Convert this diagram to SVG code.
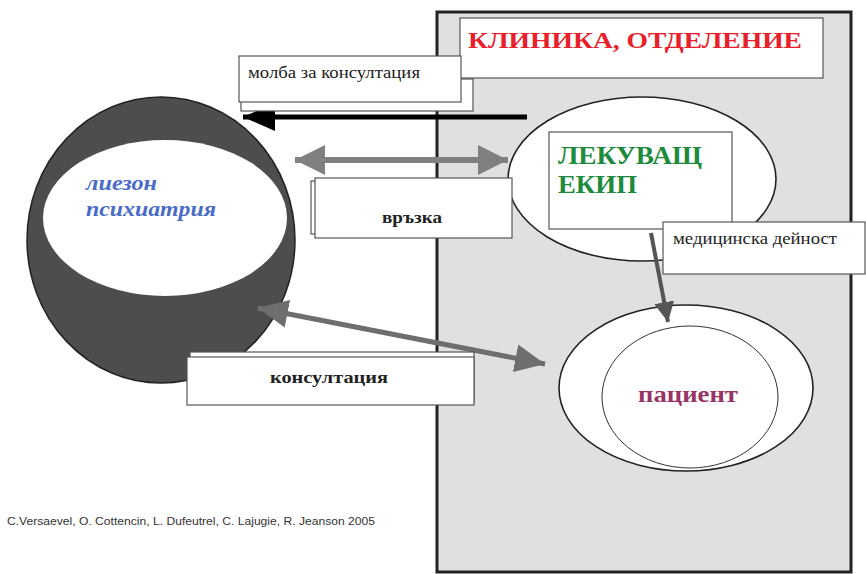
<svg xmlns="http://www.w3.org/2000/svg" width="866" height="574" viewBox="0 0 866 574">
<style>
.box{fill:#fff;stroke:#555;stroke-width:1.2}
.serif{font-family:"Liberation Serif","DejaVu Serif",serif}
.lbl{font-family:"Liberation Serif","DejaVu Serif",serif;font-size:16px;fill:#222}
.blbl{font-family:"Liberation Serif","DejaVu Serif",serif;font-size:17px;font-weight:bold;fill:#222}
.ell{fill:#fff;stroke:#222;stroke-width:1.6}
</style>
<defs>
<marker id="hBlack" markerUnits="userSpaceOnUse" markerWidth="34" markerHeight="28" refX="32" refY="14" orient="auto">
<path d="M0,0 L32,14 L0,28 Z" fill="#000"/>
</marker>
<marker id="hGray" markerUnits="userSpaceOnUse" markerWidth="32" markerHeight="30" refX="30" refY="15" orient="auto-start-reverse">
<path d="M0,0 L30,15 L0,30 Z" fill="#808080"/>
</marker>
<marker id="hGray2" markerUnits="userSpaceOnUse" markerWidth="32" markerHeight="30" refX="30" refY="15" orient="auto-start-reverse">
<path d="M0,1 L30,15 L0,29 Z" fill="#6e6e6e"/>
</marker>
<marker id="hDark" markerUnits="userSpaceOnUse" markerWidth="22" markerHeight="20" refX="20" refY="10" orient="auto">
<path d="M0,0 L20,10 L0,20 Z" fill="#555"/>
</marker>
</defs>

<g id="clinic">
<rect x="437" y="12" width="414" height="560" fill="#e0e0e0" stroke="#222" stroke-width="3"/>
</g>

<g id="clinic-title">
<rect class="box" x="460" y="18" width="363" height="60"/>
<text class="serif" x="468" y="48" font-size="24" font-weight="bold" fill="#e8202a" textLength="334" lengthAdjust="spacingAndGlyphs">КЛИНИКА, ОТДЕЛЕНИЕ</text>
</g>

<g id="liaison">
<ellipse cx="161" cy="240" rx="134" ry="143" fill="#4d4d4d" stroke="#222" stroke-width="1.5"/>
<ellipse cx="165" cy="218" rx="122" ry="78" fill="#fff"/>
<text class="serif" font-size="22" font-weight="bold" font-style="italic" fill="#4a6cc8">
<tspan x="86" y="190" textLength="71" lengthAdjust="spacingAndGlyphs">лиезон</tspan>
<tspan x="86" y="216" textLength="130" lengthAdjust="spacingAndGlyphs">психиатрия</tspan>
</text>
</g>

<g id="team">
<ellipse class="ell" cx="642" cy="179" rx="134" ry="82"/>
<rect class="box" x="549" y="132" width="183" height="97"/>
<text class="serif" font-size="26" font-weight="bold" fill="#1e8a3c">
<tspan x="558" y="164" textLength="144" lengthAdjust="spacingAndGlyphs">ЛЕКУВАЩ</tspan>
<tspan x="558" y="193" textLength="79" lengthAdjust="spacingAndGlyphs">ЕКИП</tspan>
</text>
</g>

<g id="patient">
<ellipse class="ell" cx="686" cy="388" rx="127" ry="83"/>
<ellipse cx="690" cy="397" rx="88" ry="71" fill="#fff" stroke="#333" stroke-width="1"/>
<text class="serif" x="638" y="402" font-size="24" font-weight="bold" fill="#993366" textLength="100" lengthAdjust="spacingAndGlyphs">пациент</text>
</g>

<g id="connectors">
<line x1="527" y1="117" x2="243" y2="117" stroke="#000" stroke-width="5" marker-end="url(#hBlack)"/>
<line x1="295" y1="160" x2="508" y2="160" stroke="#808080" stroke-width="6" marker-start="url(#hGray)" marker-end="url(#hGray)"/>
<line x1="258" y1="308" x2="545" y2="364" stroke="#6e6e6e" stroke-width="5" marker-start="url(#hGray2)" marker-end="url(#hGray2)"/>
<line x1="651" y1="233" x2="668" y2="322" stroke="#555" stroke-width="4" marker-end="url(#hDark)"/>
</g>

<g id="label-request">
<rect class="box" x="241" y="79" width="232" height="32"/>
<rect class="box" x="239" y="56" width="222" height="46"/>
<text class="lbl" x="248" y="78" textLength="172" lengthAdjust="spacingAndGlyphs">молба за консултация</text>
</g>

<g id="label-link">
<rect class="box" x="311" y="181" width="196" height="53"/>
<rect class="box" x="315" y="178" width="197" height="60"/>
<text class="blbl" x="382" y="223" textLength="60" lengthAdjust="spacingAndGlyphs">връзка</text>
</g>

<g id="label-consult">
<rect class="box" x="190" y="352" width="284" height="50"/>
<rect class="box" x="187" y="357" width="287" height="48"/>
<text class="blbl" x="270" y="383" font-size="19" textLength="118" lengthAdjust="spacingAndGlyphs">консултация</text>
</g>

<g id="label-medical">
<rect class="box" x="663" y="222" width="202" height="52"/>
<text class="lbl" x="673" y="244" textLength="164" lengthAdjust="spacingAndGlyphs">медицинска дейност</text>
</g>

<text x="7" y="525" font-family="Liberation Sans, Arial, sans-serif" font-size="10" fill="#333" textLength="368" lengthAdjust="spacingAndGlyphs">C.Versaevel, O. Cottencin, L. Dufeutrel, C. Lajugie, R. Jeanson 2005</text>
</svg>
